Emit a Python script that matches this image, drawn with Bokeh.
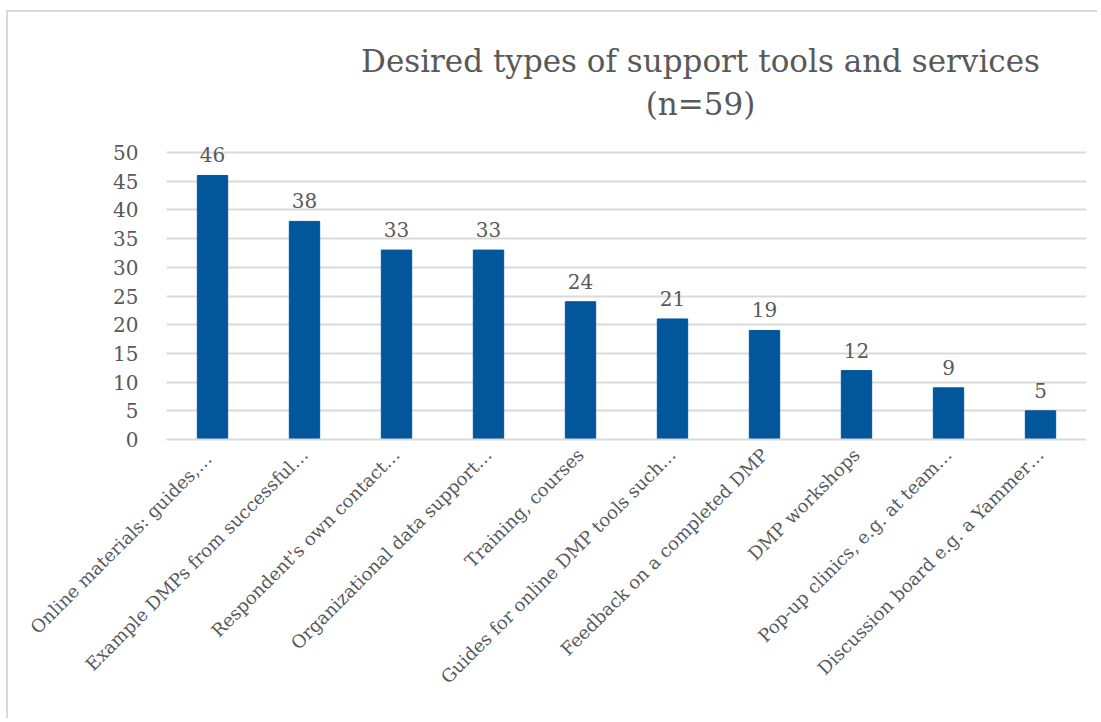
from bokeh.plotting import figure
from bokeh.models import ColumnDataSource, LabelSet, Label, FixedTicker, Range1d
from bokeh.core.properties import value
from bokeh.embed import file_html
from bokeh.resources import INLINE
import math

categories = [
    "Online materials:  guides,\u2026",
    "Example DMPs from successful\u2026",
    "Respondent's own contact\u2026",
    "Organizational data support\u2026",
    "Training, courses",
    "Guides for online DMP tools such\u2026",
    "Feedback on a completed DMP",
    "DMP workshops",
    "Pop-up clinics, e.g. at team\u2026",
    "Discussion board e.g. a Yammer\u2026",
]
values = [46, 38, 33, 33, 24, 21, 19, 12, 9, 5]
y_ticks = [0, 5, 10, 15, 20, 25, 30, 35, 40, 45, 50]
title_lines = ["Desired types of support tools and services", "(n=59)"]

FONT = "DejaVu Serif"
TXT = "#595959"
GRID = "#d9d9d9"

xs = list(range(len(categories)))
src = ColumnDataSource(dict(x=xs, top=values, lab=[str(v) for v in values]))

# frame: left 166, right 1086, bottom 439 (y=0), y=50 at 152
Y_TOP = 50 * (439 - 12) / (439 - 152)

p = figure(width=1091, height=708, output_backend="svg", toolbar_location=None,
           x_range=Range1d(-0.5, len(categories) - 0.5), y_range=Range1d(0, Y_TOP),
           min_border_left=158, min_border_right=13, min_border_top=0, min_border_bottom=281)
p.outline_line_color = None
p.styles = {"margin-left": "6px", "margin-top": "10px",
            "border-left": "2px solid #d9d9d9", "border-top": "2px solid #d9d9d9",
            "border-right": "0px none", "border-bottom": "0px none",
            "outline": "none", "box-shadow": "none"}

p.vbar(x="x", top="top", width=0.33, source=src, color="#02569A")

p.add_layout(LabelSet(x="x", y="top", text="lab", source=src, text_align="center",
                      text_baseline="alphabetic", y_offset=13, text_font=value(FONT),
                      text_font_size=value("20px"), text_color=TXT))

# x axis
p.xaxis.ticker = FixedTicker(ticks=xs)
p.xaxis.major_label_overrides = {i: c for i, c in enumerate(categories)}
p.xaxis.major_label_orientation = math.pi / 4
p.xaxis.major_label_text_font = FONT
p.xaxis.major_label_text_font_size = "18px"
p.xaxis.major_label_text_color = TXT
p.xaxis.major_tick_line_color = None
p.xaxis.minor_tick_line_color = None
p.xaxis.axis_line_color = GRID
p.xaxis.axis_line_width = 2
p.xaxis.major_label_standoff = 6
p.xgrid.grid_line_color = None

# y axis
p.yaxis.ticker = FixedTicker(ticks=y_ticks)
p.yaxis.major_label_text_font = FONT
p.yaxis.major_label_text_font_size = "20px"
p.yaxis.major_label_text_color = TXT
p.yaxis.major_tick_line_color = None
p.yaxis.minor_tick_line_color = None
p.yaxis.axis_line_color = None
p.yaxis.major_label_standoff = 22
p.ygrid.ticker = FixedTicker(ticks=y_ticks)
p.ygrid.grid_line_color = GRID
p.ygrid.grid_line_width = 2

for t, yy in zip(title_lines, [66.0, 58.5]):
    p.add_layout(Label(x=5.304, y=yy, text=t, text_align="center", text_baseline="alphabetic",
                       text_font=FONT, text_font_size="31px", text_color=TXT))

open("out.html", "w").write(file_html(p, INLINE))
